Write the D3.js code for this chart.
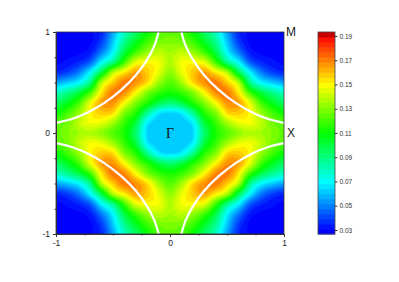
<!DOCTYPE html>
<html>
<head>
<meta charset="utf-8">
<script src="https://cdn.jsdelivr.net/npm/d3@7"></script>
<style>
  html, body { margin: 0; padding: 0; background: #fff; }
  svg { display: block; }
  text { font-family: "Liberation Sans", Arial, sans-serif; }
</style>
</head>
<body>
<div id="chart"></div>
<script>
// upper right quadrant, rows y = 1 .. 0, columns x = 0 .. 1
const quadrant = [
  [.125, .122, .110, .095, .080, .056, .036, .030, .030, .030, .030],
  [.130, .128, .120, .105, .088, .062, .040, .030, .030, .030, .030],
  [.135, .140, .133, .120, .100, .070, .050, .034, .030, .030, .030],
  [.138, .148, .150, .146, .120, .090, .070, .045, .036, .032, .030],
  [.132, .146, .158, .165, .153, .138, .100, .070, .050, .040, .036],
  [.123, .135, .155, .167, .171, .158, .138, .090, .070, .062, .056],
  [.113, .118, .130, .150, .168, .171, .153, .120, .100, .088, .080],
  [.093, .100, .115, .130, .150, .167, .165, .146, .120, .105, .095],
  [.064, .068, .088, .115, .130, .155, .158, .150, .133, .120, .110],
  [.061, .061, .068, .100, .118, .135, .146, .148, .140, .128, .122],
  [.060, .061, .064, .093, .113, .123, .132, .138, .135, .130, .125]
];
// white arc in the same quadrant
const arcX = [.100, .130, .195, .295, .425, .570, .730, .870, 1];
const arcY = [1, .870, .730, .570, .425, .295, .195, .130, .100];

const colorStops = [.03, .07, .11, .15, .19];
const colorValues = ["#0000ff", "#00ffff", "#00ff00", "#ffff00", "#ff0000"];
const barTicks = [.03, .05, .07, .09, .11, .13, .15, .17, .19];
const axisMajor = [-1, 0, 1];
const axisMinor = [-.75, -.5, -.25, .25, .5, .75];
const levelCount = 40;

const w = 399, h = 282;
const plot = { left: 56, right: 284, top: 32, bottom: 234 };
const bar = { left: 318, right: 335, top: 32, bottom: 234 };

const svg = d3.select("#chart").append("svg")
  .attr("width", w).attr("height", h).attr("viewBox", `0 0 ${w} ${h}`);

const x = d3.scaleLinear().domain([-1, 1]).range([plot.left, plot.right]);
const y = d3.scaleLinear().domain([-1, 1]).range([plot.bottom, plot.top]);
const barY = d3.scaleLinear().domain([.03, .19]).range([230, 36]);

const ramp = d3.scaleLinear().domain(colorStops).range(colorValues).clamp(true);
const barMin = barY.invert(bar.bottom), barMax = barY.invert(bar.top);
const levels = d3.range(levelCount + 1).map(i => barMin + (barMax - barMin) * i / levelCount);
const bandColor = v => v > .1885 ? "#c80000" : ramp(v);

// full grid from the quadrant, mirrored
const n = quadrant.length;
const rowAt = r => quadrant[n - 1 - Math.abs(r - (n - 1))];
const full = d3.range(2 * n - 1).map(r =>
  d3.range(2 * n - 1).map(c => rowAt(r)[Math.abs(c - (n - 1))]));

// smooth the grid for the contour fill, like the original's rendering
const cubic = (a, b, c, d, t) =>
  b + .5 * t * (c - a + t * (2 * a - 5 * b + 4 * c - d + t * (3 * (b - c) + d - a)));
const size = full.length;
const at = (r, c) => full[Math.max(0, Math.min(size - 1, r))][Math.max(0, Math.min(size - 1, c))];
const k = 8, fineSize = (size - 1) * k + 1;
const fine = new Float64Array(fineSize * fineSize);
for (let j = 0; j < fineSize; j++) {
  const r = Math.min(Math.floor(j / k), size - 2), tr = j / k - r;
  for (let i = 0; i < fineSize; i++) {
    const c = Math.min(Math.floor(i / k), size - 2), tc = i / k - c;
    const col = [-1, 0, 1, 2].map(o =>
      cubic(at(r + o, c - 1), at(r + o, c), at(r + o, c + 1), at(r + o, c + 2), tc));
    fine[j * fineSize + i] = cubic(col[0], col[1], col[2], col[3], tr);
  }
}

const contours = d3.contours().size([fineSize, fineSize]).smooth(true).thresholds(levels.slice(0, -1));
const toPlot = d3.geoTransform({
  point(px, py) {
    this.stream.point(
      plot.left + (px - .5) / (fineSize - 1) * (plot.right - plot.left),
      plot.top + (py - .5) / (fineSize - 1) * (plot.bottom - plot.top));
  }
});
const path = d3.geoPath(toPlot);

svg.append("clipPath").attr("id", "plot-clip").append("rect")
  .attr("x", plot.left).attr("y", plot.top)
  .attr("width", plot.right - plot.left).attr("height", plot.bottom - plot.top);

const g = svg.append("g").attr("clip-path", "url(#plot-clip)");
g.append("rect")
  .attr("x", plot.left).attr("y", plot.top)
  .attr("width", plot.right - plot.left).attr("height", plot.bottom - plot.top)
  .attr("fill", ramp(levels[0]));
g.selectAll("path.band")
  .data(contours(Array.from(fine)))
  .join("path")
  .attr("class", "band")
  .attr("d", path)
  .attr("fill", d => {
    const i = levels.findIndex(l => Math.abs(l - d.value) < 1e-9);
    return bandColor((levels[i] + levels[i + 1]) / 2);
  });

// white arcs, one per corner
const arcLine = d3.line().curve(d3.curveBasis);
[[1, 1], [-1, 1], [1, -1], [-1, -1]].forEach(([sx, sy]) => {
  g.append("path")
    .attr("d", arcLine(arcX.map((v, i) => [x(sx * v), y(sy * arcY[i])])))
    .attr("fill", "none")
    .attr("stroke", "#fff")
    .attr("stroke-width", 2.2);
});

// axes
const axisColor = "#333";
const styleAxis = sel => {
  sel.selectAll("path,line").attr("stroke", axisColor);
  sel.selectAll("text").attr("fill", "#222").style("font-family", '"Liberation Sans"').style("font-size", "8.5px");
};
const fmt = d => d3.format("d")(d).replace("−", "-");

svg.append("g").attr("transform", `translate(${plot.left},0)`)
  .call(d3.axisLeft(y).tickValues(axisMinor).tickSize(1.5).tickFormat(""))
  .call(styleAxis);
svg.append("g").attr("transform", `translate(${plot.left},0)`)
  .call(d3.axisLeft(y).tickValues(axisMajor).tickSize(3).tickPadding(3).tickFormat(fmt))
  .call(styleAxis);
svg.append("g").attr("transform", `translate(0,${plot.bottom})`)
  .call(d3.axisBottom(x).tickValues(axisMinor).tickSize(1.5).tickFormat(""))
  .call(styleAxis);
svg.append("g").attr("transform", `translate(0,${plot.bottom})`)
  .call(d3.axisBottom(x).tickValues(axisMajor).tickSize(3).tickPadding(3).tickFormat(fmt))
  .call(styleAxis);

svg.append("rect")
  .attr("x", plot.left).attr("y", plot.top)
  .attr("width", plot.right - plot.left).attr("height", plot.bottom - plot.top)
  .attr("fill", "none").attr("stroke", axisColor).attr("stroke-width", .8);

// symmetry point labels
svg.append("text").attr("x", x(0)).attr("y", y(0) + 5)
  .attr("text-anchor", "middle").style("font-family", '"Liberation Serif"').style("font-size", "14px")
  .attr("fill", "#111").text("Γ");
svg.append("text").attr("x", 286).attr("y", 36).style("font-size", "12px").attr("fill", "#222").text("M");
svg.append("text").attr("x", 287).attr("y", 137).style("font-size", "12px").attr("fill", "#222").text("X");

// colour bar
svg.append("g").selectAll("rect")
  .data(d3.pairs(levels))
  .join("rect")
  .attr("x", bar.left)
  .attr("width", bar.right - bar.left)
  .attr("y", d => barY(d[1]))
  .attr("height", d => barY(d[0]) - barY(d[1]) + .5)
  .attr("fill", d => bandColor((d[0] + d[1]) / 2));
svg.append("rect")
  .attr("x", bar.left).attr("y", bar.top)
  .attr("width", bar.right - bar.left).attr("height", bar.bottom - bar.top)
  .attr("fill", "none").attr("stroke", "#444").attr("stroke-width", .8);
svg.append("g").attr("transform", `translate(${bar.right},0)`)
  .call(d3.axisRight(barY).tickValues(barTicks).tickSize(2.5).tickPadding(2).tickFormat(d3.format(".2f")))
  .call(sel => {
    sel.select(".domain").remove();
    sel.selectAll("line").attr("stroke", "#333");
    sel.selectAll("text").attr("fill", "#333").style("font-size", "6.5px");
  });
</script>
</body>
</html>
